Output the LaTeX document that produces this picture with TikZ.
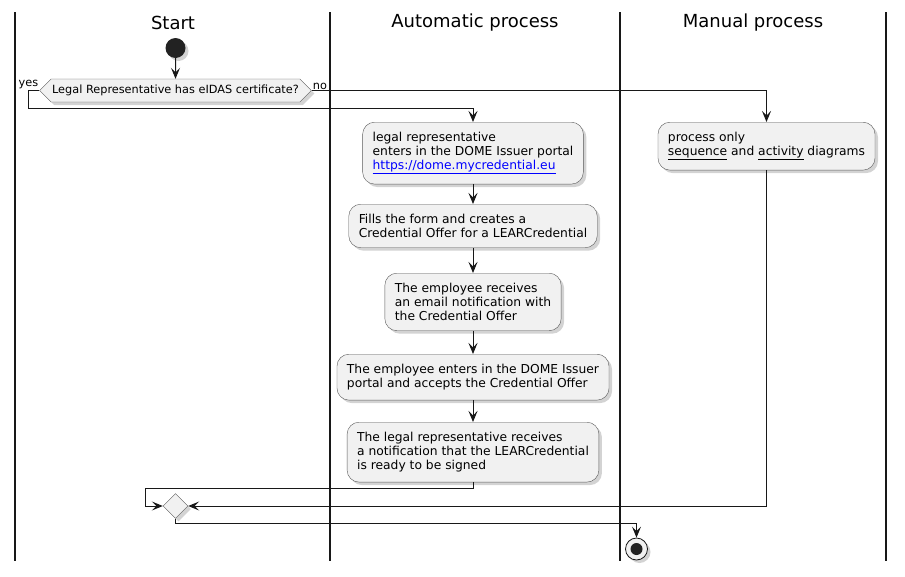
\documentclass[tikz,border=0pt]{standalone}
\usepackage{fontspec}
\setmainfont{DejaVu Sans}
\usepackage{tikz}
\usetikzlibrary{arrows.meta,shapes.geometric,shapes.symbols,shadows}
\definecolor{actfill}{HTML}{F1F1F1}
\definecolor{actline}{HTML}{181818}
\definecolor{dotfill}{HTML}{222222}
\definecolor{linkblue}{HTML}{0000FF}

\begin{document}
\begin{tikzpicture}[x=1pt,y=-1pt,
    lane/.style={line width=1.3pt,actline},
    lanetitle/.style={font=\fontsize{18}{21}\selectfont},
    shade/.style={drop shadow={shadow xshift=3pt,shadow yshift=-3pt,opacity=0.35}},
    activity/.style={rectangle,rounded corners=12pt,draw=gray!70!black,fill=actfill,
        align=left,inner xsep=10pt,inner ysep=10pt,font=\fontsize{12.3}{14}\selectfont,shade},
    decision/.style={signal,signal to=west and east,draw=gray!70!black,fill=actfill,
        minimum height=23pt,inner xsep=1pt,inner ysep=0pt,font=\fontsize{11.3}{13}\selectfont,shade},
    branch/.style={font=\fontsize{11.3}{13}\selectfont,inner sep=1pt},
    flow/.style={line width=1pt,actline,-{Stealth[length=11pt,width=9pt,inset=4.5pt]}}]
\useasboundingbox (0,0) rectangle (905,576);
% swimlanes
\draw [lane] (15,12) -- (15,561);
\draw [lane] (330,12) -- (330,561);
\draw [lane] (620,12) -- (620,561);
\draw [lane] (886,12) -- (886,561);
\node (titlestart)  at (173,23) [lanetitle] {Start};
\node (titleauto)   at (475,23) [lanetitle] {Automatic process};
\node (titlemanual) at (753,23) [lanetitle] {Manual process};
% start and decision
\node (start) at (175.5,48) [circle,fill=dotfill,minimum size=20pt,inner sep=0pt,shade] {};
\node (cert) at (175.5,90.5) [decision] {Legal Representative has eIDAS certificate?};
\node (yes) at (cert.west) [branch,anchor=south east] {yes};
\node (no)  at (cert.east) [branch,anchor=south west] {no};
% automatic process
\node (login) at (473,122) [activity,anchor=north] {legal representative\\
    enters in the DOME Issuer portal\\
    \textcolor{linkblue}{\underline{https://dome.mycredential.eu}}};
\node (form) at (473,204) [activity,anchor=north] {Fills the form and creates a\\
    Credential Offer for a LEARCredential};
\node (mail) at (473,273) [activity,anchor=north] {The employee receives\\
    an email notification with\\
    the Credential Offer};
\node (accept) at (473,354) [activity,anchor=north] {The employee enters in the DOME Issuer\\
    portal and accepts the Credential Offer};
\node (notify) at (473,422) [activity,anchor=north] {The legal representative receives\\
    a notification that the LEARCredential\\
    is ready to be signed};
% manual process
\node (manual) at (766.5,122) [activity,anchor=north] {process only\\
    \underline{sequence} and \underline{activity} diagrams};
% merge and end
\node (merge) at (175.5,506) [diamond,draw=gray!70!black,fill=actfill,minimum size=25pt,inner sep=0pt,shade] {};
\node (stop) at (636.5,549) [circle,draw=actline,fill=actfill,line width=0.8pt,minimum size=22pt,inner sep=0pt,shade] {};
\node (stopdot) at (stop) [circle,fill=dotfill,minimum size=12pt,inner sep=0pt] {};
% connectors
\draw [flow] (start) -- (cert);
\draw [flow] (cert.west) -- (28,90.5) |- (473,108) -- (login.north);
\draw [flow] (cert.east) -| (manual.north);
\draw [flow] (login) -- (form);
\draw [flow] (form) -- (mail);
\draw [flow] (mail) -- (accept);
\draw [flow] (accept) -- (notify);
\draw [flow] (notify.south) |- (145,488) |- (merge.west);
\draw [flow] (manual.south) |- (merge.east);
\draw [flow] (merge.south) |- (636.5,523) -- (stop.north);
\end{tikzpicture}
\end{document}
